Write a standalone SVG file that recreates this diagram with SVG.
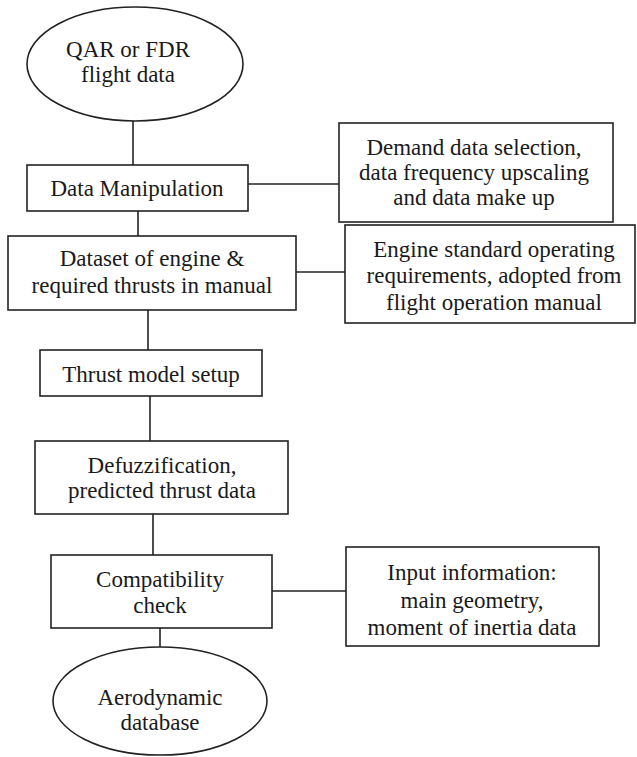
<svg xmlns="http://www.w3.org/2000/svg" width="637" height="757" viewBox="0 0 637 757">
<style>
.n{fill:#fff;stroke:#222;stroke-width:1.6}
.c line{stroke:#222;stroke-width:1.6}
</style>
<rect width="637" height="757" fill="#fff"/>
<g class="c" id="connectors">
<line x1="133" y1="121" x2="133" y2="165"/>
<line x1="138" y1="211" x2="138" y2="236"/>
<line x1="248" y1="184" x2="339" y2="184"/>
<line x1="148" y1="310" x2="148" y2="350"/>
<line x1="296" y1="272" x2="345" y2="272"/>
<line x1="150" y1="396" x2="150" y2="441"/>
<line x1="153" y1="514" x2="153" y2="555"/>
<line x1="272" y1="591" x2="346" y2="591"/>
<line x1="160" y1="628" x2="160" y2="647"/>
</g>
<g font-family="'Liberation Serif', 'DejaVu Serif', serif" font-size="23" fill="#1a1a1a" text-anchor="middle">
<g id="qar">
<ellipse class="n" cx="135" cy="64" rx="108" ry="57"/>
<text x="128" y="57">QAR or FDR</text>
<text x="128" y="82">flight data</text>
</g>
<g id="manip">
<rect class="n" x="27" y="165" width="221" height="46"/>
<text x="137" y="196">Data Manipulation</text>
</g>
<g id="demand">
<rect class="n" x="339" y="123" width="274" height="99"/>
<text x="474" y="155">Demand data selection,</text>
<text x="474" y="180">data frequency upscaling</text>
<text x="474" y="205">and data make up</text>
</g>
<g id="dataset">
<rect class="n" x="8" y="236" width="288" height="74"/>
<text x="152" y="266">Dataset of engine &amp;</text>
<text x="152" y="293">required thrusts in manual</text>
</g>
<g id="engine">
<rect class="n" x="345" y="225" width="290" height="98"/>
<text x="494" y="257">Engine standard operating</text>
<text x="494" y="283">requirements, adopted from</text>
<text x="494" y="310">flight operation manual</text>
</g>
<g id="thrust">
<rect class="n" x="40" y="350" width="222" height="46"/>
<text x="151" y="382">Thrust model setup</text>
</g>
<g id="defuzz">
<rect class="n" x="35" y="441" width="253" height="73"/>
<text x="162" y="473">Defuzzification,</text>
<text x="162" y="498">predicted thrust data</text>
</g>
<g id="compat">
<rect class="n" x="51" y="555" width="221" height="73"/>
<text x="160" y="587">Compatibility</text>
<text x="160" y="613">check</text>
</g>
<g id="input">
<rect class="n" x="346" y="547" width="253" height="99"/>
<text x="472" y="580">Input information:</text>
<text x="472" y="608">main geometry,</text>
<text x="472" y="635">moment of inertia data</text>
</g>
<g id="aero">
<ellipse class="n" cx="160" cy="701" rx="107" ry="54"/>
<text x="160" y="705">Aerodynamic</text>
<text x="160" y="730">database</text>
</g>
</g>
</svg>
